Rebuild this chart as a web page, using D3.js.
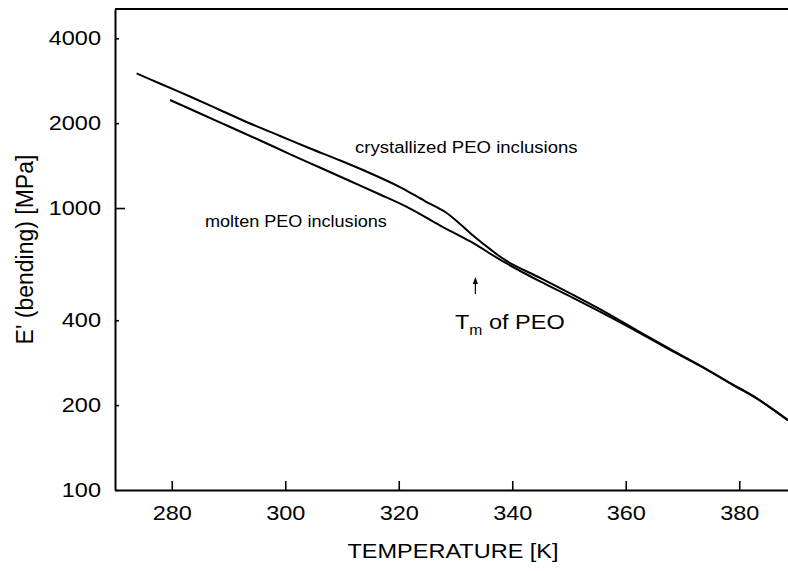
<!DOCTYPE html>
<html><head><meta charset="utf-8">
<script src="https://cdn.jsdelivr.net/npm/d3@7"></script>
<style>
body{margin:0;background:#fff;}
svg{display:block;font-family:"Liberation Sans",Arial,Helvetica,sans-serif;}
.ylab text{transform-box:fill-box;transform-origin:right center;transform:scaleX(1.12);}
.xlab text{transform-box:fill-box;transform-origin:center center;transform:scaleX(1.12);}
</style></head><body>
<svg id="c" width="788" height="571"></svg>
<script>
// ---- data ----
const crystT = [273.8, 277.9, 283.2, 288.5, 293.8, 299.1, 304.4, 309.7, 314.9, 320.2, 324.6, 328.2, 330.8, 333.4, 336.1, 339.0, 344.9, 350.7, 356.7, 362.5, 368.3, 373.1, 378.9, 383.1, 388.6];
const crystE = [3004, 2765, 2486, 2227, 1994, 1801, 1626, 1474, 1331, 1187, 1059, 968, 878, 789, 715, 649, 565, 492, 424, 363, 312, 276.4, 236.5, 211.5, 177];
const moltenT = [279.7, 285.0, 290.3, 295.6, 300.8, 306.1, 311.4, 316.7, 322.0, 327.3, 332.6, 338.7, 344.9, 350.7, 356.7, 362.5, 368.3, 373.1, 378.9, 383.1, 388.6];
const moltenE = [2416, 2164, 1938, 1736, 1554, 1392, 1247, 1117, 996, 867, 761, 641, 549, 480, 416, 360, 310, 275.3, 235.6, 210.8, 176.4];
const xTicks = [280, 300, 320, 340, 360, 380];
const yTicks = [100, 200, 400, 1000, 2000, 4000];
const xDomain = [270, 390];
const yDomain = [100, 5080];
const xTitle = "TEMPERATURE [K]";
const yTitle = "E' (bending) [MPa]";
const crystLabel = "crystallized PEO inclusions";
const moltenLabel = "molten PEO inclusions";
const tmTemp = 333.5;

// ---- chart ----
const svg = d3.select("#c");
svg.append("rect").attr("width",788).attr("height",571).attr("fill","#fff");
const pLeft = 115, pRight = 796, pTop = 9, pBottom = 490;
const x = d3.scaleLinear().domain(xDomain).range([pLeft, pRight]);
const y = d3.scaleLog().domain(yDomain).range([pBottom, pTop]);

// top frame
svg.append("line").attr("x1",pLeft).attr("x2",788).attr("y1",pTop).attr("y2",pTop)
  .attr("stroke","#000").attr("stroke-width",2);

const yAx = svg.append("g").attr("class","ylab").attr("transform",`translate(${pLeft},0)`)
  .call(d3.axisLeft(y).tickValues(yTicks).tickFormat(d3.format("d")).tickSizeInner(-4).tickSizeOuter(0).tickPadding(14));
yAx.selectAll(".tick line").attr("x2", d => d === 1000 ? 10 : 4).attr("stroke-width",1.6);
yAx.select(".domain").attr("stroke-width",2);
yAx.selectAll("text").attr("font-size",21).attr("fill","#000").attr("font-family","Liberation Sans, Arial, sans-serif");

const xAx = svg.append("g").attr("class","xlab").attr("transform",`translate(0,${pBottom})`)
  .call(d3.axisBottom(x).tickValues(xTicks).tickFormat(d3.format("d")).tickSizeInner(-9).tickSizeOuter(0).tickPadding(15));
xAx.selectAll(".tick line").attr("stroke-width",1.6);
xAx.select(".domain").attr("stroke-width",2);
xAx.selectAll("text").attr("font-size",21).attr("fill","#000").attr("font-family","Liberation Sans, Arial, sans-serif");

// titles
svg.append("text").attr("transform","translate(453,558) scale(1.12,1)")
  .attr("text-anchor","middle").attr("font-size",21).text(xTitle);
svg.append("text").attr("transform","translate(33,249.5) rotate(-90)")
  .attr("text-anchor","middle").attr("font-size",23).text(yTitle);

// lines
const line = d3.line().x(d => x(d[0])).y(d => y(d[1])).curve(d3.curveCatmullRom.alpha(0.5));
const cryst = crystT.map((t,i) => [t, crystE[i]]);
const molten = moltenT.map((t,i) => [t, moltenE[i]]);
[cryst, molten].forEach(s => {
  svg.append("path").datum(s).attr("d", line).attr("fill","none")
    .attr("stroke","#000").attr("stroke-width",2).attr("stroke-linejoin","round");
});

// curve labels
svg.append("text").attr("transform","translate(355,152.5) scale(1.16,1)")
  .attr("font-size",16).text(crystLabel);
svg.append("text").attr("transform","translate(205,226.5) scale(1.13,1)")
  .attr("font-size",16).text(moltenLabel);

// Tm annotation
const ax = x(tmTemp);
svg.append("line").attr("x1",ax).attr("x2",ax).attr("y1",294).attr("y2",281)
  .attr("stroke","#000").attr("stroke-width",1.2);
svg.append("path").attr("d",`M${ax-2.6},${284} L${ax},${277} L${ax+2.6},${284} Z`).attr("fill","#000");
const tm = svg.append("text").attr("transform","translate(455,329) scale(1.12,1)").attr("font-size",21);
tm.append("tspan").text("T");
tm.append("tspan").attr("font-size",14).attr("dy",6).text("m");
tm.append("tspan").attr("dy",-6).text(" of PEO");
</script>
</body></html>
